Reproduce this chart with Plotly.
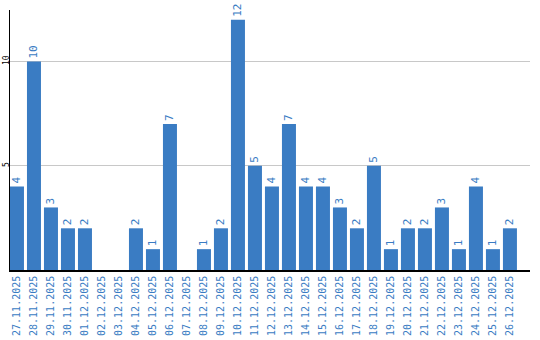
import plotly.graph_objects as go

dates = ["27.11.2025","28.11.2025","29.11.2025","30.11.2025","01.12.2025","02.12.2025",
         "03.12.2025","04.12.2025","05.12.2025","06.12.2025","07.12.2025","08.12.2025",
         "09.12.2025","10.12.2025","11.12.2025","12.12.2025","13.12.2025","14.12.2025",
         "15.12.2025","16.12.2025","17.12.2025","18.12.2025","19.12.2025","20.12.2025",
         "21.12.2025","22.12.2025","23.12.2025","24.12.2025","25.12.2025","26.12.2025"]
values = [4,10,3,2,2,0,0,2,1,7,0,1,2,12,5,4,7,4,4,3,2,5,1,2,2,3,1,4,1,2]

blue = "#3a7cc3"
labels = [str(v) if v else "" for v in values]

fig = go.Figure(go.Bar(
    x=dates, y=values, marker_color=blue, marker_line_width=0,
    text=labels, textposition="outside", textangle=-90, cliponaxis=False,
    textfont=dict(family="DejaVu Sans Mono", size=11, color=blue),
))
fig.update_layout(
    width=540, height=340, margin=dict(l=10, r=10, t=10, b=70),
    paper_bgcolor="white", plot_bgcolor="white", bargap=0.176, showlegend=False,
)
fig.update_xaxes(tickangle=-90, tickfont=dict(family="DejaVu Sans Mono", size=10, color=blue),
                 showline=True, linecolor="black", linewidth=1.5, ticks="", showgrid=False,
                 automargin=False, range=[-0.41, 30.18])
fig.update_yaxes(range=[0, 12.47], tickvals=[5, 10], tickangle=-90,
                 tickfont=dict(family="DejaVu Sans Mono", size=8, color="black"),
                 showline=True, linecolor="black", linewidth=1, showgrid=True,
                 gridcolor="#c8c8c8", gridwidth=1, zeroline=False, ticks="", ticklabelstandoff=-3,
                 automargin=False)
fig.write_html("out.html")
